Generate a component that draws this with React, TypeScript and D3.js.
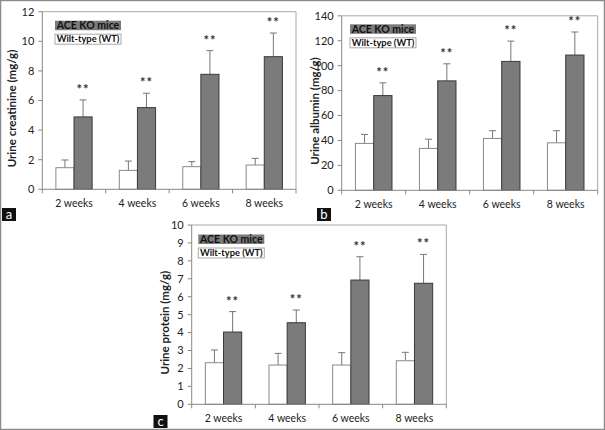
import React from "react";
import * as d3 from "d3";

const categories = ["2 weeks", "4 weeks", "6 weeks", "8 weeks"];
const seriesNames = ["ACE KO mice", "Wilt-type (WT)"];

const creatinineWT = [1.46, 1.28, 1.53, 1.64];
const creatinineWTErr = [0.52, 0.63, 0.34, 0.45];
const creatinineKO = [4.89, 5.52, 7.77, 8.96];
const creatinineKOErr = [1.15, 0.97, 1.6, 1.6];
const creatinineTicks = [0, 2, 4, 6, 8, 10, 12];

const albuminWT = [37.6, 33.6, 41.6, 38.1];
const albuminWTErr = [7.2, 7.4, 6.2, 9.7];
const albuminKO = [76, 87.8, 103.4, 108.5];
const albuminKOErr = [10.2, 13.7, 16.3, 18.5];
const albuminTicks = [0, 20, 40, 60, 80, 100, 120, 140];

const proteinWT = [2.32, 2.19, 2.19, 2.43];
const proteinWTErr = [0.71, 0.65, 0.69, 0.47];
const proteinKO = [4.03, 4.55, 6.93, 6.75];
const proteinKOErr = [1.14, 0.71, 1.3, 1.61];
const proteinTicks = [0, 1, 2, 3, 4, 5, 6, 7, 8, 9, 10];

const significance = ["**", "**", "**", "**"];

const FONT = "Lato, 'Open Sans', sans-serif";
const KO_FILL = "#7b7b7b";
const KO_STROKE = "#3a3a3a";
const WT_STROKE = "#8a8a8a";

type PanelProps = {
  left: number; right: number; top: number; bottom: number;
  wt: number[]; wtErr: number[]; ko: number[]; koErr: number[];
  ticks: number[]; title: string; letter: string;
  letterX: number; letterY: number; titleX: number;
  legendX: number; legendY: number;
};

function Panel(p: PanelProps) {
  const x = d3.scaleBand<string>().domain(categories).range([p.left, p.right]).paddingInner(0).paddingOuter(0);
  const ymax = p.ticks[p.ticks.length - 1];
  const y = d3.scaleLinear().domain([0, ymax]).range([p.bottom, p.top]);
  const cw = x.bandwidth();
  const bw = cw / 3.5;
  const pad = bw * 0.75;
  const boundaries = d3.range(categories.length + 1).map((i) => p.left + i * cw);
  return (
    <g>
      <line x1={p.left} x2={p.right} y1={p.top} y2={p.top} stroke="#a8a8a8" strokeWidth={1} />
      <line x1={p.right} x2={p.right} y1={p.top} y2={p.bottom} stroke="#a8a8a8" strokeWidth={1} />
      {categories.map((c, i) => {
        const x0 = (x(c) as number) + pad;
        const wtTop = y(p.wt[i]);
        const koTop = y(p.ko[i]);
        const wtErrTop = y(p.wt[i] + p.wtErr[i]);
        const koErrTop = y(p.ko[i] + p.koErr[i]);
        return (
          <g key={c}>
            <line x1={x0 + bw / 2} x2={x0 + bw / 2} y1={wtTop} y2={wtErrTop} stroke="#777" />
            <line x1={x0 + bw / 2 - 3.5} x2={x0 + bw / 2 + 3.5} y1={wtErrTop} y2={wtErrTop} stroke="#777" />
            <line x1={x0 + bw * 1.5} x2={x0 + bw * 1.5} y1={koTop} y2={koErrTop} stroke="#777" />
            <line x1={x0 + bw * 1.5 - 3.5} x2={x0 + bw * 1.5 + 3.5} y1={koErrTop} y2={koErrTop} stroke="#777" />
            <rect x={x0} y={wtTop} width={bw} height={p.bottom - wtTop} fill="#fff" stroke={WT_STROKE} strokeWidth={1} />
            <rect x={x0 + bw} y={koTop} width={bw} height={p.bottom - koTop} fill={KO_FILL} stroke={KO_STROKE} strokeWidth={1} />
            <text x={x0 + bw * 1.5} y={koErrTop - 6} textAnchor="middle" fontFamily={FONT} fontWeight="bold" fontSize={13} letterSpacing={1} fill="#333">{significance[i]}</text>
          </g>
        );
      })}
      <line x1={p.left} x2={p.left} y1={p.top} y2={p.bottom} stroke="#888" />
      {p.ticks.map((t) => (
        <g key={t}>
          <line x1={p.left - 4} x2={p.left} y1={y(t)} y2={y(t)} stroke="#888" />
          <text x={p.left - 8} y={y(t)} dy="0.35em" textAnchor="end" fontFamily={FONT} fontSize={11} fill="#222">{t}</text>
        </g>
      ))}
      <line x1={p.left} x2={p.right} y1={p.bottom} y2={p.bottom} stroke="#888" />
      {boundaries.map((b, i) => (
        <line key={i} x1={b} x2={b} y1={p.bottom} y2={p.bottom + 4} stroke="#888" />
      ))}
      {categories.map((c) => (
        <text key={c} x={(x(c) as number) + cw / 2} y={p.bottom + 14} dy="0.35em" textAnchor="middle" fontFamily={FONT} fontSize={10.5} fill="#222">{c}</text>
      ))}
      <text transform={`translate(${p.titleX},${(p.top + p.bottom) / 2 + 8}) rotate(-90)`} textAnchor="middle" dy="0.35em" fontFamily={FONT} fontWeight="bold" fontSize={11.5} fill="#222">{p.title}</text>
      <rect x={p.legendX} y={p.legendY} width={66} height={9.5} fill={KO_FILL} />
      <text x={p.legendX + 33} y={p.legendY + 5} dy="0.35em" textAnchor="middle" fontFamily={FONT} fontWeight="bold" fontSize={10.5} fill="#111">{seriesNames[0]}</text>
      <rect x={p.legendX} y={p.legendY + 13.5} width={66} height={10} fill="#fff" stroke="#aaa" />
      <text x={p.legendX + 33} y={p.legendY + 18.5} dy="0.35em" textAnchor="middle" fontFamily={FONT} fontWeight="bold" fontSize={9.3} fill="#111">{seriesNames[1]}</text>
      <rect x={p.letterX} y={p.letterY} width={14} height={13} fill="#111" />
      <text x={p.letterX + 7} y={p.letterY + 6.5} dy="0.38em" textAnchor="middle" fontFamily={FONT} fontSize={13} fill="#fff">{p.letter}</text>
    </g>
  );
}

export default function App() {
  return (
    <svg width={605} height={430} style={{ position: "absolute", left: 0, top: 0, background: "#fff" }}>
      <rect x={0} y={0} width={605} height={430} fill="#fff" />
      <rect x={0.5} y={0.5} width={604} height={429} fill="none" stroke="#8c8c8c" strokeWidth={1.5} />
      <Panel left={42.3} right={296} top={11.7} bottom={189.3}
        wt={creatinineWT} wtErr={creatinineWTErr} ko={creatinineKO} koErr={creatinineKOErr}
        ticks={creatinineTicks} title="Urine creatinine (mg/g)" letter="a"
        letterX={2} letterY={208} titleX={12} legendX={55} legendY={20.7} />
      <Panel left={341.7} right={597.7} top={15.8} bottom={190.3}
        wt={albuminWT} wtErr={albuminWTErr} ko={albuminKO} koErr={albuminKOErr}
        ticks={albuminTicks} title="Urine albumin (mg/g)" letter="b"
        letterX={317} letterY={208} titleX={315} legendX={350} legendY={24.3} />
      <Panel left={191.7} right={446.3} top={225} bottom={404.3}
        wt={proteinWT} wtErr={proteinWTErr} ko={proteinKO} koErr={proteinKOErr}
        ticks={proteinTicks} title="Urine protein (mg/g)" letter="c"
        letterX={153.5} letterY={415} titleX={165} legendX={198.3} legendY={234.5} />
    </svg>
  );
}
